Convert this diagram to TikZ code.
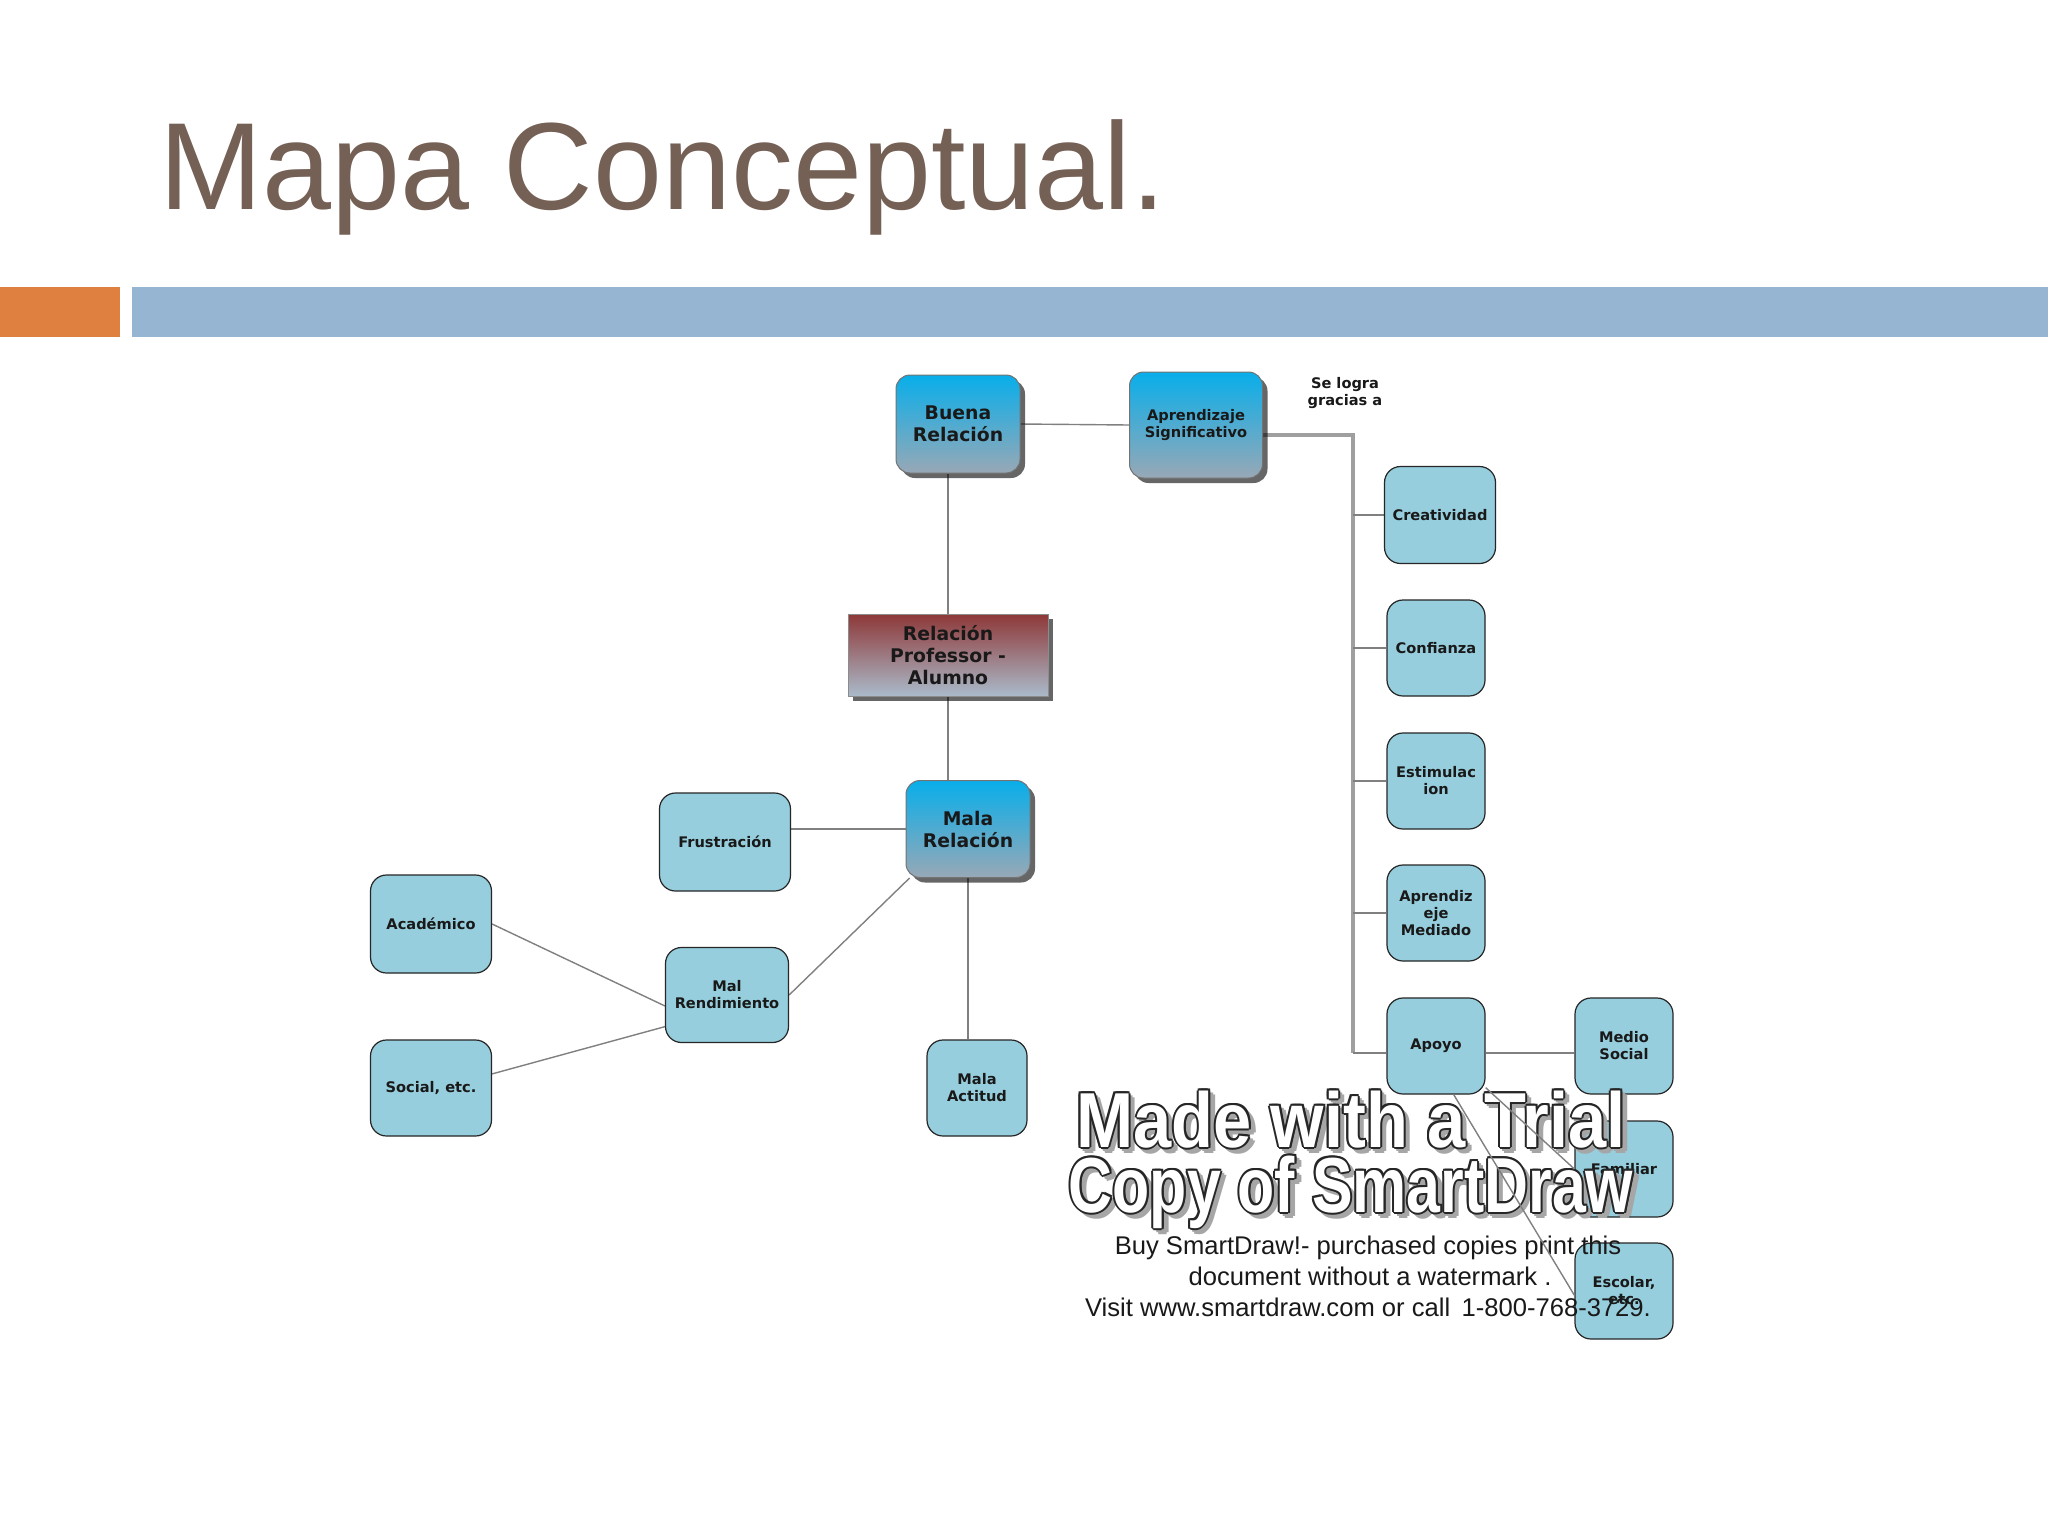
\documentclass[tikz,border=0pt]{standalone}
\usepackage{fontspec}
\setmainfont{Liberation Sans}
\newfontfamily\boxfont{DejaVu Sans}
\usetikzlibrary{shadows,backgrounds}

\definecolor{title_brown}{RGB}{117,96,86}
\definecolor{bar_orange}{RGB}{224,128,64}
\definecolor{bar_blue}{RGB}{150,181,211}
\definecolor{cyan_top}{RGB}{8,174,234}
\definecolor{steel_bottom}{RGB}{152,168,182}
\definecolor{red_top}{RGB}{142,56,56}
\definecolor{mist_bottom}{RGB}{170,186,202}
\definecolor{box_fill}{RGB}{150,206,221}
\definecolor{link_gray}{RGB}{128,128,128}

\begin{document}
\begin{tikzpicture}[x=0.5pt, y=-0.5pt,
    big_box/.style={rounded corners=7pt, draw=black!55, line width=0.5pt,
        top color=cyan_top, bottom color=steel_bottom, align=center, inner sep=1pt,
        text=black!90, font=\boxfont\bfseries\fontsize{9.4}{11}\selectfont,
        drop shadow={shadow xshift=2.5pt, shadow yshift=-2.5pt, fill=black, opacity=0.6}},
    main_box/.style={draw=black!45, line width=0.5pt, top color=red_top, bottom color=mist_bottom,
        align=center, inner sep=1pt, text=black!90,
        font=\boxfont\bfseries\fontsize{9.4}{11}\selectfont,
        drop shadow={shadow xshift=2.5pt, shadow yshift=-2.5pt, fill=black, opacity=0.6}},
    small_box/.style={rounded corners=8pt, draw=black!85, line width=0.6pt, fill=box_fill,
        minimum width=49pt, minimum height=48pt, align=center, inner sep=1pt, text=black!90,
        font=\boxfont\bfseries\fontsize{7.3}{8.5}\selectfont},
    note_text/.style={align=center, inner sep=0pt, text=black!90,
        font=\boxfont\bfseries\fontsize{7.3}{8.5}\selectfont},
    link_style/.style={draw=link_gray, line width=0.7pt},
    trunk_style/.style={draw=gray!75, line width=2pt},
    wm_big/.style={anchor=base, inner sep=0pt, font=\bfseries\fontsize{39}{39}\selectfont},
    wm_small/.style={anchor=base, inner sep=0pt, text=black!90, font=\fontsize{12.8}{15.3}\selectfont}
]
    % Page size
    \useasboundingbox (0,0) rectangle (2048,1536);

    % Title and header bars
    \node[anchor=base west, inner sep=0pt, text=title_brown, font=\fontsize{62}{62}\selectfont]
        (title) at (159,209) {Mapa Conceptual.};
    \fill[bar_orange] (0,287) rectangle (120,337);
    \fill[bar_blue] (132,287) rectangle (2048,337);

    % Central branch
    \node[big_box, minimum width=62pt, minimum height=49pt] (buena) at (958,424) {Buena\\Relación};
    \node[big_box, minimum width=66.5pt, minimum height=53pt, font=\boxfont\bfseries\fontsize{7.3}{8.5}\selectfont]
        (aprendizaje) at (1196,425) {Aprendizaje\\Significativo};
    \node[note_text] (logra) at (1345,393) {Se logra\\gracias a};
    \node[main_box, minimum width=100pt, minimum height=41pt] (relacion) at (948,655) {Relación\\Professor -\\Alumno};
    \node[big_box, minimum width=62pt, minimum height=48.5pt] (mala) at (968,829) {Mala\\Relación};

    % Left side nodes
    \node[small_box, minimum width=65.5pt, minimum height=49pt] (frustracion) at (725,842) {Frustración};
    \node[small_box, minimum width=60.5pt, minimum height=49pt] (academico) at (431,924) {Académico};
    \node[small_box, minimum width=61.5pt, minimum height=47.5pt] (rendimiento) at (727,995) {Mal\\Rendimiento};
    \node[small_box, minimum width=60.5pt, minimum height=48pt] (social) at (431,1088) {Social, etc.};
    \node[small_box, minimum width=50pt] (actitud) at (977,1088) {Mala\\Actitud};

    % Right side nodes
    \node[small_box, minimum width=55.5pt, minimum height=48.5pt] (creatividad) at (1440,515) {Creatividad};
    \node[small_box] (confianza) at (1436,648) {Confianza};
    \node[small_box] (estimulacion) at (1436,781) {Estimulac\\ion};
    \node[small_box] (mediado) at (1436,913) {Aprendiz\\eje\\Mediado};
    \node[small_box] (apoyo) at (1436,1046) {Apoyo};
    \node[small_box] (medio) at (1624,1046) {Medio\\Social};
    \node[small_box] (familiar) at (1624,1169) {Familiar};
    \node[small_box] (escolar) at (1624,1291) {Escolar,\\etc.};

    \coordinate (trunk_top) at (1353,435);
    \coordinate (trunk_bottom) at (1353,1053);

    % Connectors
    \begin{scope}[on background layer]
        \fill[white] (0,0) rectangle (2048,1536);
        \draw[link_style] (buena.east) -- (aprendizaje.west);
        \draw[link_style] (relacion.north) -- (relacion.north |- buena.south);
        \draw[link_style] (relacion.south) -- (relacion.south |- mala.north);
        \draw[link_style] (mala.west) -- (mala.west -| frustracion.east);
        \draw[link_style] (mala.south) -- (mala.south |- actitud.north);
        \draw[link_style] (mala.220) -- (rendimiento.east);
        \draw[link_style] (academico.east) -- (rendimiento.190);
        \draw[link_style] (social.13) -- (rendimiento.207);
        \draw[trunk_style] (aprendizaje.east |- trunk_top) -- (trunk_top) -- (trunk_bottom);
        \foreach \n in {creatividad, confianza, estimulacion, mediado}
            \draw[link_style] (\n.west) -- (\n.west -| trunk_top);
        \draw[link_style] (apoyo.west |- trunk_bottom) -- (trunk_bottom);
        \draw[link_style] (apoyo.east |- trunk_bottom) -- (medio.west |- trunk_bottom);
    \end{scope}

    % Watermark
    \foreach \txt/\yy/\sx [count=\r] in {Made with a Trial/1147/0.88, Copy of SmartDraw/1212/0.78} {
        \foreach \dx/\dy [count=\k] in {1.2/-2, 3.2/-2, 2.2/-1, 2.2/-3, 2.2/-2}
            \node[wm_big, text=gray!70, xshift=\dx pt, yshift=\dy pt] (wm_s\r_\k) at (1351,\yy) {\scalebox{\sx}[1]{\txt}};
        \foreach \dx/\dy [count=\k] in {-1/0, 1/0, 0/-1, 0/1, -0.7/-0.7, 0.7/0.7, -0.7/0.7, 0.7/-0.7}
            \node[wm_big, text=black!85, xshift=\dx pt, yshift=\dy pt] (wm_o\r_\k) at (1351,\yy) {\scalebox{\sx}[1]{\txt}};
        \node[wm_big, text=white] (wm_w\r) at (1351,\yy) {\scalebox{\sx}[1]{\txt}};
    }
    \node[wm_small] (wm_line1) at (1368,1254) {Buy SmartDraw!- purchased copies print this};
    \node[wm_small] (wm_line2) at (1370,1285) {document without a watermark .};
    \node[wm_small] (wm_line3) at (1368,1316) {Visit www.smartdraw.com or call\, 1-800-768-3729.};

    % Connectors from Apoyo
    \draw[link_style] (apoyo.-40) -- (familiar.west);
    \draw[link_style] (apoyo.-70) -- (escolar.185);

\end{tikzpicture}
\end{document}
